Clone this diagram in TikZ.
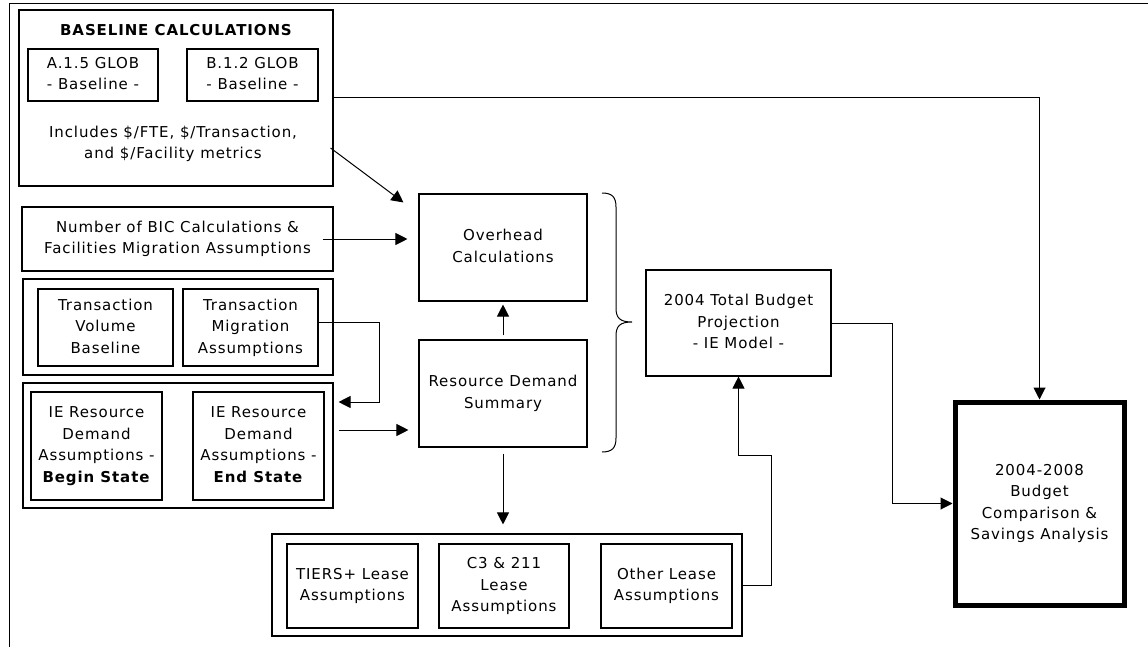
\documentclass[tikz,border=0pt]{standalone}
\usepackage{fontspec}
\setmainfont{DejaVu Sans}[LetterSpace=6]
\usetikzlibrary{arrows.meta,calc}

\tikzset{
  txt/.style={font=\fontsize{15}{21.5}\selectfont, align=center, inner sep=0pt,
    execute at end node={\vphantom{gp}}},
  box/.style={txt, draw=black, line width=1.1pt},
  lnk/.style={draw=black, line width=1pt},
  arr/.style={lnk, -{Triangle[length=12pt,width=12pt]}},
}

\begin{document}
\begin{tikzpicture}[x=1pt,y=-1pt]
\useasboundingbox (0,0) rectangle (1148,647);
\fill[white] (0,0) rectangle (1148,647);

% page frame (top and left edges)
\draw[lnk] (9,647) -- (9,4) -- (1148,4);

% baseline calculations group
\node[box, minimum width=314pt, minimum height=176pt] (base) at (176,98) {};
\node[txt, font=\fontsize{15}{21.5}\selectfont\bfseries] (basetitle) at (176,32) {BASELINE CALCULATIONS};
\node[box, minimum width=130pt, minimum height=52pt] (a15) at (93,75) {A.1.5 GLOB\\- Baseline -};
\node[box, minimum width=131pt, minimum height=52pt] (b12) at (252.5,75) {B.1.2 GLOB\\- Baseline -};
\node[txt] (incl) at (173,144) {Includes \$/FTE, \$/Transaction,\\and \$/Facility metrics};

% BIC calculations
\node[box, minimum width=311pt, minimum height=64pt] (bic) at (177.5,239) {Number of BIC Calculations \&\\Facilities Migration Assumptions};

% transaction group
\node[box, minimum width=310pt, minimum height=96pt] (tgroup) at (178,327) {};
\node[box, minimum width=135pt, minimum height=77pt] (tvb) at (105.5,327.5) {Transaction\\Volume\\Baseline};
\node[box, minimum width=135pt, minimum height=77pt] (tma) at (250.5,327.5) {Transaction\\Migration\\Assumptions};

% IE resource demand group
\node[box, minimum width=310pt, minimum height=125pt] (iegroup) at (178,445.5) {};
\node[box, minimum width=131pt, minimum height=108pt] (ieb) at (96.5,446) {IE Resource\\Demand\\Assumptions -\\\textbf{Begin State}};
\node[box, minimum width=131pt, minimum height=108pt] (iee) at (258.5,446) {IE Resource\\Demand\\Assumptions -\\\textbf{End State}};

% central calculations
\node[box, minimum width=168pt, minimum height=107pt] (ovh) at (503,247.5) {Overhead\\Calculations};
\node[box, minimum width=168pt, minimum height=107pt] (rds) at (503,393.5) {Resource Demand\\Summary};

% total budget projection
\node[box, minimum width=185pt, minimum height=106pt] (tot) at (738.5,323) {2004 Total Budget\\Projection\\- IE Model -};

% comparison
\node[box, line width=5pt, minimum width=169pt, minimum height=203pt] (cmp) at (1039.5,503.5) {2004-2008\\Budget\\Comparison \&\\Savings Analysis};

% lease group
\node[box, minimum width=470pt, minimum height=102pt] (lgroup) at (507,585) {};
\node[box, minimum width=131pt, minimum height=84pt] (tiers) at (352.5,586) {TIERS+ Lease\\Assumptions};
\node[box, minimum width=130pt, minimum height=84pt] (c3) at (504,586) {C3 \& 211\\Lease\\Assumptions};
\node[box, minimum width=131pt, minimum height=84pt] (oth) at (666.5,586) {Other Lease\\Assumptions};

% brace grouping the two central boxes
\draw[lnk] (602,193) .. controls (612,193) and (616,197) .. (616,207) -- (616,308)
  .. controls (616,318) and (620,322) .. (632,322)
  .. controls (620,322) and (616,326) .. (616,336) -- (616,438)
  .. controls (616,448) and (612,452) .. (602,452);

% connectors
\draw[arr] (base.east) -| (cmp.north);
\draw[arr] ($(base.east)+(-3,50)$) -- ($(ovh.north west)+(-15,9)$);
\draw[arr] ($(bic.east)+(-11,0)$) -- ($(ovh.west |- bic.east)+(-11,0)$);
\draw[arr] ($(tma.east)+(0,-5)$) -- ++(61,0) |- ($(iegroup.east)+(5,-43.5)$);
\draw[arr] ($(iegroup.east)+(5,-15.5)$) -- ($(rds.west |- iegroup.east)+(-10,-15.5)$);
\draw[arr] ($(rds.north)+(0,-4)$) -- ($(ovh.south)+(0,3)$);
\draw[arr] ($(rds.south)+(0,6)$) -- ($(rds.south |- lgroup.north)+(0,-9)$);
\draw[arr] (lgroup.east) -- ++(29,0) |- ($(tot.south)+(0,79)$) -- (tot.south);
\draw[arr] (tot.east) -- ++(61,0) |- (cmp.west);
\end{tikzpicture}
\end{document}
